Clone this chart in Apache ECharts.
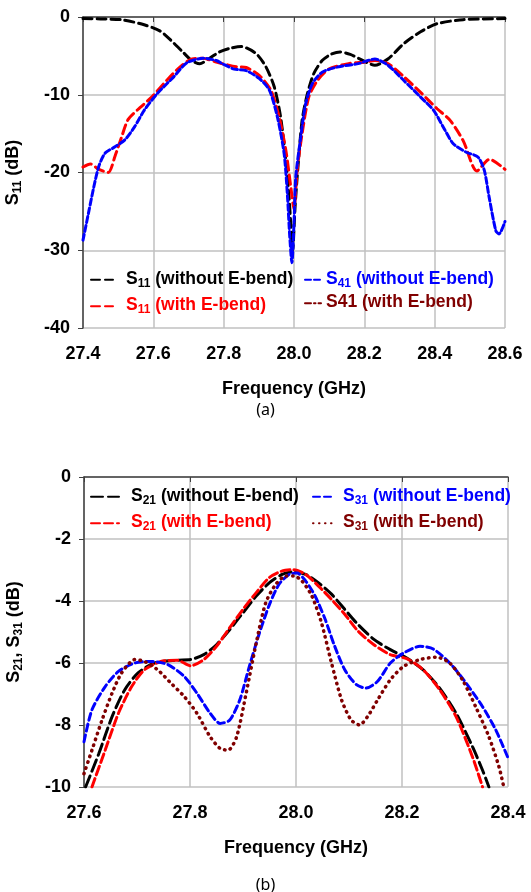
<!DOCTYPE html>
<html>
<head>
<meta charset="utf-8">
<script src="https://cdn.jsdelivr.net/npm/echarts@6/dist/echarts.min.js"></script>
<style>
  html, body { margin: 0; padding: 0; background: #fff; }
  #chart { width: 531px; height: 892px; }
</style>
</head>
<body>
<div id="chart"></div>
<script>
// ---- data: [frequency GHz, dB] ----
// (a) top panel
var s11NoBend = [[27.40,-0.2],[27.45,-0.25],[27.51,-0.35],[27.574,-1.0],[27.621,-1.85],[27.658,-3.35],[27.686,-4.6],[27.709,-5.6],[27.732,-6.0],[27.76,-5.3],[27.788,-4.5],[27.82,-4.0],[27.85,-3.8],[27.892,-4.7],[27.92,-6.4],[27.944,-9.0],[27.962,-12.9],[27.977,-18.5],[27.986,-23.2],[27.991,-26.8],[27.996,-30.0],[28.003,-24.5],[28.009,-20.6],[28.023,-13.3],[28.038,-9.9],[28.056,-7.3],[28.08,-5.6],[28.105,-4.8],[28.131,-4.5],[28.16,-4.8],[28.183,-5.3],[28.23,-6.2],[28.267,-5.4],[28.313,-3.4],[28.36,-1.9],[28.407,-0.86],[28.481,-0.34],[28.6,-0.2]];
var s11Bend = [[27.40,-19.3],[27.421,-18.9],[27.445,-19.6],[27.472,-20.0],[27.491,-17.9],[27.51,-15.4],[27.528,-13.2],[27.556,-11.9],[27.593,-10.4],[27.639,-8.1],[27.667,-6.8],[27.704,-5.5],[27.74,-5.3],[27.779,-5.8],[27.836,-6.4],[27.864,-6.5],[27.901,-7.5],[27.934,-9.4],[27.958,-12.9],[27.977,-17.2],[27.991,-21.9],[28.0,-24.7],[28.009,-19.7],[28.023,-15.0],[28.042,-10.3],[28.066,-8.2],[28.099,-6.7],[28.155,-6.0],[28.202,-5.8],[28.23,-5.6],[28.267,-6.0],[28.313,-7.7],[28.36,-9.7],[28.407,-11.8],[28.444,-13.3],[28.481,-15.9],[28.52,-19.8],[28.556,-18.3],[28.6,-19.6]];
var s41NoBend = [[27.40,-28.7],[27.417,-24.9],[27.431,-21.8],[27.445,-19.2],[27.463,-17.5],[27.491,-16.7],[27.519,-15.8],[27.547,-14.1],[27.574,-12.0],[27.612,-9.8],[27.658,-7.7],[27.695,-5.9],[27.742,-5.3],[27.779,-5.6],[27.80,-6.1],[27.83,-6.7],[27.864,-6.9],[27.901,-7.9],[27.93,-9.4],[27.953,-12.9],[27.972,-17.6],[27.981,-22.7],[27.988,-28.3],[27.994,-31.6],[28.0,-26.5],[28.005,-20.6],[28.019,-15.5],[28.033,-11.2],[28.052,-8.6],[28.08,-7.1],[28.127,-6.4],[28.183,-6.0],[28.23,-5.4],[28.267,-6.2],[28.313,-8.2],[28.36,-10.3],[28.397,-12.0],[28.425,-14.2],[28.453,-16.3],[28.49,-17.4],[28.523,-18.0],[28.541,-19.7],[28.555,-23.2],[28.574,-27.5],[28.583,-27.9],[28.6,-26.3]];
var s41Bend = [];   // only shown in the legend of (a)

// (b) bottom panel
var s21NoBend = [[27.603,-10.0],[27.628,-8.92],[27.653,-7.73],[27.677,-6.86],[27.702,-6.32],[27.733,-6.0],[27.776,-5.91],[27.801,-5.89],[27.826,-5.73],[27.85,-5.41],[27.875,-4.92],[27.9,-4.38],[27.925,-3.84],[27.95,-3.41],[27.974,-3.14],[27.993,-3.06],[28.018,-3.14],[28.042,-3.41],[28.067,-3.78],[28.092,-4.27],[28.117,-4.76],[28.147,-5.24],[28.178,-5.57],[28.209,-5.84],[28.24,-6.22],[28.271,-6.81],[28.302,-7.62],[28.333,-8.7],[28.352,-9.46],[28.364,-10.0]];
var s21Bend = [[27.615,-10.0],[27.64,-8.81],[27.665,-7.62],[27.69,-6.76],[27.714,-6.22],[27.745,-5.95],[27.776,-5.91],[27.801,-6.09],[27.826,-5.89],[27.85,-5.46],[27.875,-4.86],[27.9,-4.27],[27.925,-3.73],[27.95,-3.24],[27.974,-3.03],[27.996,-2.99],[28.018,-3.14],[28.042,-3.51],[28.067,-3.95],[28.092,-4.43],[28.117,-4.97],[28.147,-5.41],[28.178,-5.73],[28.209,-5.86],[28.24,-6.22],[28.271,-6.86],[28.302,-7.73],[28.333,-9.03],[28.352,-10.0]];
var s31NoBend = [[27.6,-8.54],[27.615,-7.51],[27.64,-6.76],[27.665,-6.27],[27.696,-6.0],[27.727,-5.95],[27.758,-6.05],[27.789,-6.43],[27.813,-6.97],[27.838,-7.62],[27.857,-7.95],[27.875,-7.84],[27.894,-7.19],[27.912,-6.11],[27.931,-5.03],[27.95,-4.11],[27.968,-3.46],[27.987,-3.14],[28.002,-3.1],[28.018,-3.35],[28.036,-3.84],[28.055,-4.59],[28.073,-5.46],[28.092,-6.22],[28.114,-6.7],[28.132,-6.81],[28.154,-6.59],[28.178,-6.0],[28.203,-5.68],[28.234,-5.46],[28.259,-5.55],[28.29,-6.0],[28.321,-6.65],[28.352,-7.41],[28.377,-8.16],[28.4,-9.06]];
var s31Bend = [[27.6,-9.57],[27.615,-8.81],[27.634,-7.84],[27.653,-6.97],[27.671,-6.32],[27.696,-5.89],[27.714,-5.95],[27.739,-6.22],[27.764,-6.65],[27.789,-7.08],[27.813,-7.62],[27.838,-8.38],[27.857,-8.76],[27.872,-8.81],[27.888,-8.38],[27.906,-6.97],[27.925,-5.35],[27.943,-4.05],[27.962,-3.46],[27.981,-3.19],[27.996,-3.19],[28.011,-3.35],[28.03,-3.84],[28.048,-4.7],[28.067,-6.0],[28.086,-7.19],[28.104,-7.84],[28.12,-8.0],[28.135,-7.73],[28.154,-7.19],[28.178,-6.54],[28.203,-6.11],[28.234,-5.89],[28.265,-5.81],[28.29,-6.0],[28.314,-6.54],[28.339,-7.41],[28.364,-8.38],[28.383,-9.35],[28.392,-10.0]];

var FONT = 'Liberation Sans, Arial, sans-serif';
var BLACK = '#000000', RED = '#ff0000', BLUE = '#0000ff', MAROON = '#800000';

// names shown as plain text (no subscript) in the legend
var plainNames = ['S41 (with E-bend)'];

function richStyles(size, spacer) {
  var sub = Math.round(size * 0.66);
  return {
    sp: { width: spacer || 0 },
    n: { fontSize: size, fontWeight: 'bold', fontFamily: FONT, lineHeight: size + 2, verticalAlign: 'top' },
    s: { fontSize: sub, fontWeight: 'bold', fontFamily: FONT, lineHeight: sub, verticalAlign: 'bottom', padding: [size - sub + 5, 0, 0, 0] }
  };
}

// "S21 (with ...)" -> rich text with a subscript
function withSub(text) {
  return '{n|' + text.replace(/S(\d\d)/g, 'S}{s|$1}{n|') + '}';
}

function legendFormatter(name) {
  if (plainNames.indexOf(name) >= 0) return '{sp|}{n|' + name + '}';
  return '{sp|}' + withSub(name);
}

function makeLegend(names, colors, left, top, iconW, spacer) {
  return {
    orient: 'vertical',
    left: left,
    top: top,
    padding: 0,
    itemGap: 4,
    itemWidth: iconW,
    itemHeight: 12,
    itemStyle: { opacity: 0 },   // hide the marker, keep the dashed line
    selectedMode: false,
    data: names.map(function (n, i) { return { name: n, textStyle: { color: colors[i] } }; }),
    formatter: legendFormatter,
    textStyle: { rich: richStyles(17.5, spacer) }
  };
}

function lineSeries(name, data, color, dash, width, idx) {
  return {
    type: 'line',
    name: name,
    xAxisIndex: idx,
    yAxisIndex: idx,
    data: data,
    smooth: 0.25,
    symbol: 'none',
    lineStyle: { color: color, width: width, type: dash, cap: 'round' },
    itemStyle: { color: color }
  };
}

function xAxis(idx, min, max) {
  return {
    type: 'value', gridIndex: idx, min: min, max: max, interval: 0.2,
    name: 'Frequency (GHz)', nameLocation: 'middle', nameGap: 52,
    nameTextStyle: { fontFamily: FONT, fontWeight: 'bold', fontSize: 18, color: '#000' },
    axisLine: { lineStyle: { color: '#404040', width: 1.5 } },
    axisTick: { show: true, length: 5, lineStyle: { color: '#404040' } },
    axisLabel: { margin: 17, fontFamily: FONT, fontWeight: 'bold', fontSize: 18, color: '#000',
      formatter: function (v) { return v.toFixed(1); } },
    splitLine: { show: true, lineStyle: { color: '#c0c0c0', width: 1.5 } }
  };
}

function yAxis(idx, min, max, interval, title) {
  return {
    type: 'value', gridIndex: idx, min: min, max: max, interval: interval,
    name: title, nameLocation: 'middle', nameGap: 59, nameRotate: 90,
    nameTextStyle: { color: '#000', rich: richStyles(18) },
    axisLine: { show: true, lineStyle: { color: '#404040', width: 1.5 } },
    axisTick: { show: true, length: 5, lineStyle: { color: '#404040' } },
    axisLabel: { margin: 13, fontFamily: FONT, fontWeight: 'bold', fontSize: 18, color: '#000' },
    splitLine: { show: true, lineStyle: { color: '#c0c0c0', width: 1.5 } }
  };
}

var chart = echarts.init(document.getElementById('chart'), null, { renderer: 'canvas' });

var option = {
  backgroundColor: '#ffffff',
  animation: false,
  title: [
    { text: '(a)', left: 'center', top: 397, textStyle: { fontFamily: 'Noto Sans, sans-serif', fontWeight: 'normal', fontSize: 16, color: '#000' } },
    { text: '(b)', left: 'center', top: 872, textStyle: { fontFamily: 'Noto Sans, sans-serif', fontWeight: 'normal', fontSize: 16, color: '#000' } }
  ],
  grid: [
    { left: 83, top: 17, width: 422, height: 311, containLabel: false, outerBoundsMode: 'none' },
    { left: 84, top: 477, width: 424, height: 310, containLabel: false, outerBoundsMode: 'none' }
  ],
  xAxis: [xAxis(0, 27.4, 28.6), xAxis(1, 27.6, 28.4)],
  yAxis: [
    yAxis(0, -40, 0, 10, withSub('S11 (dB)')),
    yAxis(1, -10, 0, 2, withSub('S21, S31 (dB)'))
  ],
  legend: [
    makeLegend(['S11 (without E-bend)', 'S11 (with E-bend)'], [BLACK, RED], 90, 267, 22, 8),
    makeLegend(['S41 (without E-bend)', 'S41 (with E-bend)'], [BLUE, MAROON], 304, 267, 16, 0),
    makeLegend(['S21 (without E-bend)', 'S21 (with E-bend)'], [BLACK, RED], 90, 484, 28, 7),
    makeLegend(['S31 (without E-bend)', 'S31 (with E-bend)'], [BLUE, MAROON], 312, 484, 21, 4)
  ],
  series: [
    lineSeries('S11 (without E-bend)', s11NoBend, BLACK, [9, 5], 3, 0),
    lineSeries('S11 (with E-bend)', s11Bend, RED, [9, 5], 3, 0),
    lineSeries('S41 (without E-bend)', s41NoBend, BLUE, [6, 3], 3, 0),
    lineSeries('S41 (with E-bend)', s41Bend, MAROON, [6, 3, 1.5, 3], 2, 0),
    lineSeries('S21 (without E-bend)', s21NoBend, BLACK, [12, 5], 3, 1),
    lineSeries('S21 (with E-bend)', s21Bend, RED, [9, 4], 3, 1),
    lineSeries('S31 (without E-bend)', s31NoBend, BLUE, [7, 4], 3, 1),
    lineSeries('S31 (with E-bend)', s31Bend, MAROON, [0.5, 5.5], 3.5, 1)
  ]
};

chart.setOption(option);
</script>
</body>
</html>
